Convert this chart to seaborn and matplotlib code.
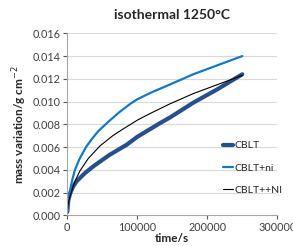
import numpy as np
import pandas as pd
import seaborn as sns
import matplotlib.pyplot as plt

# values
t_cblt = [0, 1400, 4000, 8000, 13400, 25000, 37100, 60000, 84800, 100000, 132400, 146700, 180000, 215000, 250000]
m_cblt = [0.0003, 0.0013, 0.0019, 0.0025, 0.0030, 0.0037, 0.0043, 0.0053, 0.0062, 0.0069, 0.0081, 0.0086, 0.0099, 0.0111, 0.0124]

t_ni = [0, 500, 2000, 4000, 7000, 11000, 17000, 26700, 35000, 44300, 60000, 75000, 90000, 100000, 120000, 146700, 180000, 215000, 250000]
m_ni = [0.0003, 0.0009, 0.0016, 0.0022, 0.0031, 0.0040, 0.0049, 0.0060, 0.0067, 0.0074, 0.0083, 0.0091, 0.0098, 0.0102, 0.0108, 0.0115, 0.0124, 0.0132, 0.0140]

t_nn = [0, 1000, 3000, 6000, 11000, 18000, 30000, 46700, 65000, 80000, 101000, 120000, 146700, 180000, 215000, 250000]
m_nn = [0.0003, 0.0009, 0.0015, 0.0021, 0.0030, 0.0039, 0.0050, 0.0061, 0.0070, 0.0076, 0.0084, 0.0090, 0.0098, 0.0107, 0.0115, 0.0123]

labels = ['CBLT', 'CBLT+ni', 'CBLT++NI']

sns.set_style('white')
plt.rcParams['font.family'] = ['Lato', 'DejaVu Sans']

fig = plt.figure(figsize=(2.93, 2.46), dpi=100)
ax = fig.add_axes([0.2297, 0.1248, 0.7167, 0.7398])

sns.lineplot(x=t_cblt, y=m_cblt, ax=ax, color='#264f8c', linewidth=3.0, label=labels[0])
sns.lineplot(x=t_ni, y=m_ni, ax=ax, color='#1478c8', linewidth=1.6, label=labels[1])
sns.lineplot(x=t_nn, y=m_nn, ax=ax, color='black', linewidth=0.8, label=labels[2])

ax.set_xlim(0, 300000)
ax.set_ylim(0, 0.016)
ax.set_xticks([0, 100000, 200000, 300000])
ax.set_yticks(np.arange(0, 0.0161, 0.002))
ax.set_yticklabels([f'{v:.3f}' for v in np.arange(0, 0.0161, 0.002)])
ax.grid(axis='y', color='#d9d9d9', linewidth=0.8)
ax.set_axisbelow(True)
for s in ['top', 'right']:
    ax.spines[s].set_visible(False)
for s in ['left', 'bottom']:
    ax.spines[s].set_color('#a6a6a6')
    ax.spines[s].set_linewidth(0.8)
ax.tick_params(axis='both', labelsize=7.8, colors='#595959', length=3, width=0.8,
               direction='out', left=True, bottom=True, pad=2)
ax.tick_params(axis='both', labelcolor='#404040')

ax.set_title('isothermal 1250°C', fontsize=10, fontweight='bold', pad=10)
ax.set_xlabel('time/s', fontsize=8.5, fontweight='bold', labelpad=0)
ax.set_ylabel('mass variation/g cm$^{-2}$', fontsize=8.5, fontweight='bold', labelpad=2)

ax.legend(loc='center left', bbox_to_anchor=(0.72, 0.26), frameon=False, fontsize=7.5,
          handlelength=1.0, handletextpad=0.1, labelspacing=1.25, borderaxespad=0)

fig.savefig('out.png', dpi=100)
